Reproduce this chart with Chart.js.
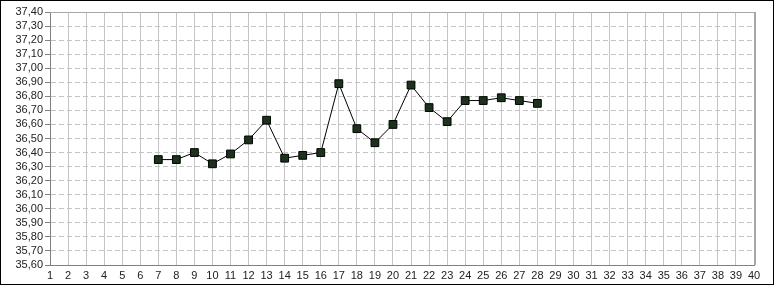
<!DOCTYPE html>
<html>
<head>
<meta charset="utf-8">
<script src="https://cdn.jsdelivr.net/npm/chart.js@4"></script>
<style>
html,body{margin:0;padding:0;background:#fff;}
#wrap{width:776px;height:287px;position:relative;}
</style>
</head>
<body>
<div id="wrap"><canvas id="c" width="776" height="287"></canvas></div>
<script>
const days = [7, 8, 9, 10, 11, 12, 13, 14, 15, 16, 17, 18, 19, 20, 21, 22, 23, 24, 25, 26, 27, 28];
const temps = [36.35, 36.35, 36.40, 36.32, 36.39, 36.49, 36.63, 36.36, 36.38, 36.40, 36.89, 36.57, 36.47, 36.60, 36.88, 36.72, 36.62, 36.77, 36.77, 36.79, 36.77, 36.75];
const xMin = 1, xMax = 40;
const yMin = 35.6, yMax = 37.4, yStep = 0.1;

const points = days.map((d, i) => ({x: d, y: temps[i]}));

const framePlugin = {
  id: 'frame',
  beforeDraw(chart) {
    const ctx = chart.ctx;
    ctx.save();
    ctx.fillStyle = '#fff';
    ctx.fillRect(0, 0, chart.width, chart.height);
    ctx.restore();
  },
  afterDraw(chart) {
    const ctx = chart.ctx;
    const a = chart.chartArea;
    ctx.save();
    ctx.strokeStyle = '#a8a8a8';
    ctx.lineWidth = 1;
    ctx.beginPath();
    ctx.moveTo(a.left, a.top + 0.5);
    ctx.lineTo(a.right, a.top + 0.5);
    ctx.stroke();
    ctx.lineWidth = 2;
    ctx.beginPath();
    ctx.moveTo(a.right + 1, a.top);
    ctx.lineTo(a.right + 1, a.bottom);
    ctx.stroke();
    ctx.strokeStyle = '#000';
    ctx.lineWidth = 1;
    ctx.strokeRect(0.5, 0.5, 773, 284);
    ctx.restore();
  }
};

new Chart(document.getElementById('c'), {
  type: 'line',
  data: {
    datasets: [{
      data: points,
      borderColor: '#000',
      borderWidth: 1,
      backgroundColor: '#1b321b',
      pointBackgroundColor: '#1b321b',
      pointBorderColor: '#000',
      pointBorderWidth: 1,
      pointStyle: 'rect',
      pointRadius: 5.5,
      tension: 0,
      fill: false
    }]
  },
  options: {
    responsive: false,
    animation: false,
    devicePixelRatio: 1,
    layout: {padding: {top: 12, right: 22, bottom: 0, left: 0}},
    plugins: {legend: {display: false}, tooltip: {enabled: false}},
    scales: {
      x: {
        type: 'linear',
        min: xMin, max: xMax,
        afterFit(s) { s.height = 22; },
        ticks: {
          stepSize: 1, autoSkip: false, maxRotation: 0,
          color: '#222', padding: 4,
          font: {family: 'Liberation Sans', size: 11}
        },
        grid: {color: '#c4c4c4', lineWidth: 1, drawTicks: false},
        border: {color: '#808080', width: 1}
      },
      y: {
        type: 'linear',
        min: yMin, max: yMax,
        afterFit(s) { s.width = 50; },
        afterBuildTicks(s) {
          const t = [];
          for (let v = Math.round(yMin * 100); v <= Math.round(yMax * 100); v += Math.round(yStep * 100)) t.push({value: v / 100});
          s.ticks = t;
        },
        ticks: {
          autoSkip: false,
          color: '#222', padding: 2,
          font: {family: 'Liberation Sans', size: 11},
          callback: v => v.toFixed(2).replace('.', ',')
        },
        grid: {color: '#c4c4c4', lineWidth: 1, tickLength: 5, tickColor: '#808080', tickBorderDash: []},
        border: {color: '#808080', width: 1, dash: [5, 3]}
      }
    }
  },
  plugins: [framePlugin]
});
</script>
</body>
</html>
